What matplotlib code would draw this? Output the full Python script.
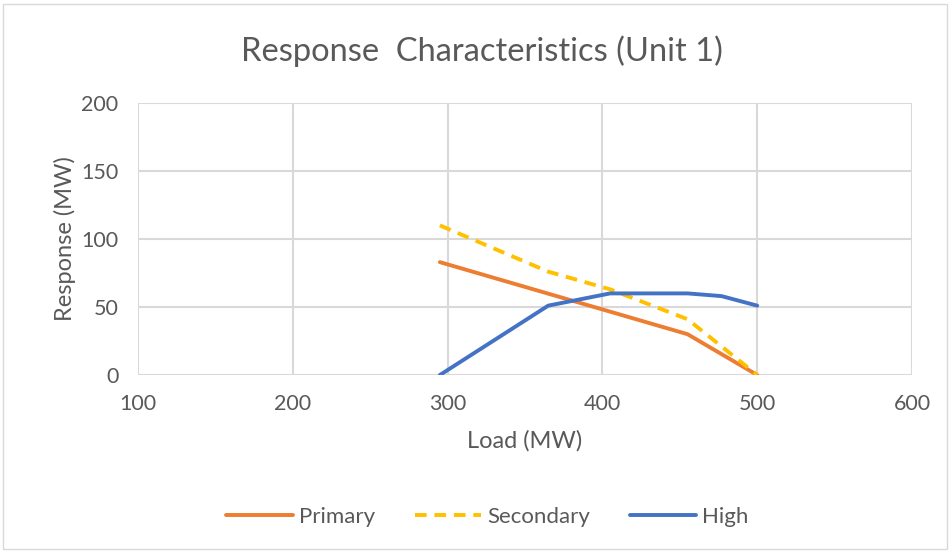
import matplotlib.pyplot as plt
from matplotlib.patches import Rectangle

# Load (MW) breakpoints and responses (MW)
primary_load = [295, 455, 500]
primary_resp = [83, 30, 0]

secondary_load = [295, 365, 405, 455, 500]
secondary_resp = [110, 76, 63, 41, 0]

high_load = [295, 365, 405, 455, 477, 500]
high_resp = [0, 51, 60, 60, 58, 51]

x_ticks = [100, 200, 300, 400, 500, 600]
y_ticks = [0, 50, 100, 150, 200]

text_color = '#595959'
grid_color = '#d9d9d9'
plt.rcParams['font.family'] = ['Lato', 'DejaVu Sans']

fig = plt.figure(figsize=(9.5, 5.52), dpi=100)
ax = fig.add_axes([138 / 950, 1 - 375 / 552, (912 - 138) / 950, (375 - 103) / 552])

ax.plot(primary_load, primary_resp, color='#ed7d31', lw=2.8, label='Primary', solid_capstyle='round')
ax.plot(secondary_load, secondary_resp, color='#ffc000', lw=2.8, ls=(0, (3, 2)), label='Secondary')
ax.plot(high_load, high_resp, color='#4472c4', lw=2.8, label='High', solid_capstyle='round')

ax.set_xlim(100, 600)
ax.set_ylim(0, 200)
ax.set_xticks(x_ticks)
ax.set_yticks(y_ticks)
ax.grid(True, color=grid_color, lw=1.5)
ax.set_axisbelow(True)
for s in ax.spines.values():
    s.set_visible(False)
ax.tick_params(length=0, labelsize=15.5, colors=text_color)
ax.tick_params(axis='x', pad=14)
ax.tick_params(axis='y', pad=14)
ax.set_xlabel('Load (MW)', fontsize=17, color=text_color, labelpad=11)
ax.set_ylabel('Response (MW)', fontsize=17, color=text_color, labelpad=4)

fig.text(0.507, 0.908, 'Response  Characteristics (Unit 1)', ha='center', va='center',
         fontsize=23.5, color=text_color)

fig.legend(loc='center', bbox_to_anchor=(0.513, 1 - 517 / 552), ncol=3, frameon=False,
           fontsize=16, labelcolor=text_color, handlelength=3.0, handletextpad=0.25,
           columnspacing=1.8)

# chart area border
fig.patches.append(Rectangle((3 / 950, 3 / 552), 944 / 950, 545 / 552, transform=fig.transFigure,
                             fill=False, edgecolor='#d9d9d9', lw=1))

fig.savefig('out.png', dpi=100)
